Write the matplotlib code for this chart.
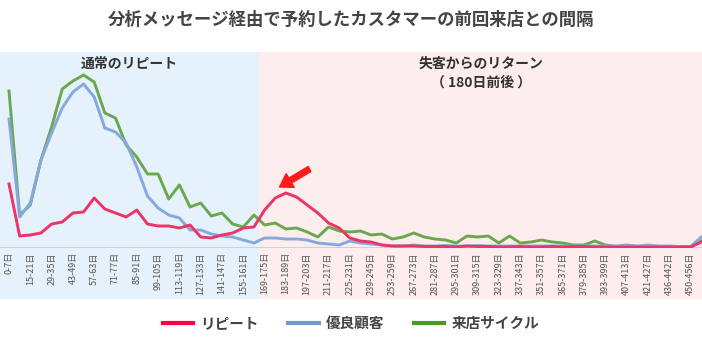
import matplotlib
matplotlib.use("Agg")
from matplotlib import pyplot as plt

plt.rcParams['font.family'] = ['Noto Sans CJK JP', 'DejaVu Sans']

# data (arbitrary units - only the shape matters)
tick_labels = ['0-7日', '15-21日', '29-35日', '43-49日', '57-63日', '71-77日', '85-91日',
               '99-105日', '113-119日', '127-133日', '141-147日', '155-161日', '169-175日',
               '183-189日', '197-203日', '211-217日', '225-231日', '239-245日', '253-259日',
               '267-273日', '281-287日', '295-301日', '309-315日', '323-329日', '337-343日',
               '351-357日', '365-371日', '379-385日', '393-399日', '407-413日', '421-427日',
               '436-442日', '450-456日']

repeat = [64, 12, 13, 15, 24, 26, 35, 36, 50, 39, 35, 31, 38, 24, 22, 22, 20, 23, 11, 10,
          13, 15, 20, 21, 38, 50, 55, 51, 43, 35, 25, 20, 10, 7, 6, 3, 2, 2, 2, 1.5,
          1.5, 1.5, 1, 2, 1.5, 1.5, 1, 1, 1.5, 1, 1, 1.5, 1, 1.5, 1.5, 1, 1, 1, 1, 1,
          1, 1, 1, 1, 1, 6]

loyal = [129, 31, 45, 88, 115, 140, 156, 164, 151, 120, 116, 105, 81, 52, 40, 33, 30, 18, 18, 14,
         12, 11, 8, 5, 10, 10, 9, 9, 8, 5, 4, 3, 7, 5, 4, 3, 2, 2, 3, 2,
         2, 2.5, 2, 2, 2.5, 2, 2, 2, 2, 2, 2, 2, 2, 2, 2, 2, 2, 2, 3, 2,
         3, 2, 2, 1.5, 1.5, 11]

cycle = [157, 33, 43, 88, 121, 159, 167, 173, 166, 135, 130, 103, 91, 74, 74, 49, 63, 41, 45, 32,
         35, 24, 21, 33, 23, 25, 19, 20, 16, 11, 21, 17, 16, 17, 13, 14, 9, 11, 15, 11,
         9, 8, 5, 12, 11, 12, 5, 12, 5, 6, 8, 6, 5, 3, 3, 7, 3, 1.5, 1.5, 1.5,
         1.5, 1.5, 1.5, 1, 1, 7]

split = 23.5  # border between "normal repeat" and "return" zones

fig = plt.figure(figsize=(7.02, 3.42), dpi=100)
ax = fig.add_axes([0, 1 - 248 / 342, 1, 196 / 342])

x = list(range(len(repeat)))
xmin, xmax = -0.845, 65.07
ax.set_xlim(xmin, xmax)
ax.set_ylim(0, 196)

# background zones, reaching down behind the tick labels
ax.axvspan(xmin, split, ymin=-0.26, ymax=1, color='#e6f2fb', lw=0, zorder=0, clip_on=False)
ax.axvspan(split, xmax, ymin=-0.26, ymax=1, color='#fdeded', lw=0, zorder=0, clip_on=False)
ax.axhline(0, color='#c5ccd4', lw=1.2, zorder=1)

ax.plot(x, cycle, color='#6aa84f', lw=2.1, label='来店サイクル', zorder=3)
ax.plot(x, loyal, color='#86a8de', lw=2.1, label='優良顧客', zorder=3)
ax.plot(x, repeat, color='#ec3468', lw=2.1, label='リピート', zorder=4)

ax.text((xmin + split) / 2, 184, '通常のリピート', ha='center', va='center',
        fontsize=10, fontweight='bold', color='#333333')
ax.text((split + xmax) / 2, 184, '失客からのリターン', ha='center', va='center',
        fontsize=10, fontweight='bold', color='#333333')
ax.text((split + xmax) / 2, 165, '（ 180日前後 ）', ha='center', va='center',
        fontsize=10, fontweight='bold', color='#333333')

# arrow pointing at the return peak (highest point right of the split)
ret = [i for i in x if i > split]
peak = max(ret, key=lambda i: repeat[i])
ax.annotate('', xy=(peak - 0.6, repeat[peak] + 6), xytext=(30, 18), textcoords='offset pixels',
            arrowprops=dict(arrowstyle='simple,head_length=0.75,head_width=0.95,tail_width=0.34',
                            mutation_scale=12, color='#ff1a1a', shrinkA=0, shrinkB=0))

ax.set_xticks(list(range(0, 2 * len(tick_labels), 2)))
ax.set_xticklabels(tick_labels, rotation=90, fontsize=6.5, color='#555555')
ax.tick_params(axis='x', length=0, pad=3)
ax.set_yticks([])
for s in ax.spines.values():
    s.set_visible(False)

fig.text(0.5, 1 - 20 / 342, '分析メッセージ経由で予約したカスタマーの前回来店との間隔',
         ha='center', va='center', fontsize=12.5, fontweight='bold', color='#444444')

h, l = ax.get_legend_handles_labels()
order = [2, 1, 0]
leg = fig.legend([h[i] for i in order], [l[i] for i in order], loc='center',
                 bbox_to_anchor=(0.5, 1 - 323 / 342), ncol=3, frameon=False,
                 fontsize=10.5, handlelength=2.1, handletextpad=0.5, columnspacing=2.0)
leg_colors = ['#ff0044', '#7199d6', '#4e9a1e']
for line, c in zip(leg.get_lines(), leg_colors):
    line.set_color(c)
    line.set_linewidth(3)
for t in leg.get_texts():
    t.set_color('#444444')
    t.set_fontweight('bold')

fig.savefig('out.png', dpi=100)
